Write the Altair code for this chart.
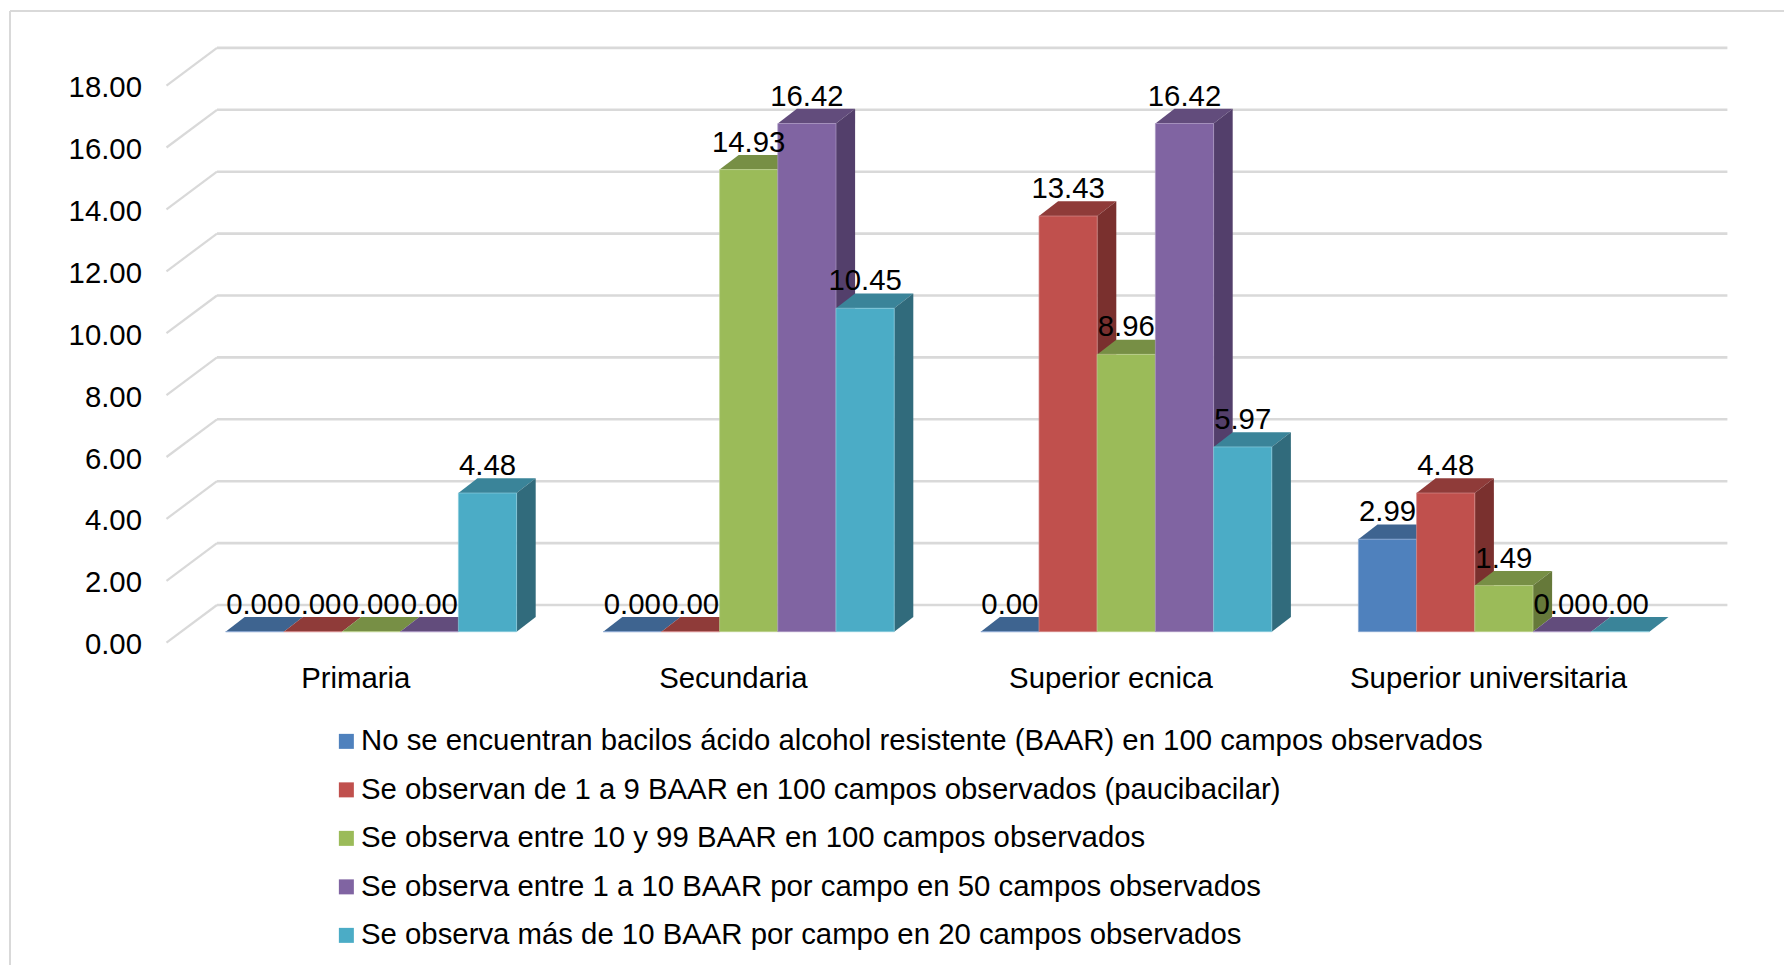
import altair as alt
import pandas as pd

# Survey categories and series (percent of samples per smear result)
categories = ["Primaria", "Secundaria", "Superior ecnica", "Superior universitaria"]
series_names = [
    "No se encuentran bacilos ácido alcohol resistente (BAAR) en 100 campos observados",
    "Se observan de 1 a 9 BAAR en 100 campos observados (paucibacilar)",
    "Se observa entre 10 y 99 BAAR en 100 campos observados",
    "Se observa entre 1 a 10 BAAR por campo en 50 campos observados",
    "Se observa más de 10 BAAR por campo en 20 campos observados",
]
no_baar = [0.00, 0.00, 0.00, 2.99]
paucibacilar = [0.00, 0.00, 13.43, 4.48]
entre_10_99 = [0.00, 14.93, 8.96, 1.49]
entre_1_10 = [0.00, 16.42, 16.42, 0.00]
mas_de_10 = [4.48, 10.45, 5.97, 0.00]
series_values = [no_baar, paucibacilar, entre_10_99, entre_1_10, mas_de_10]

front_colors = ["#4f81bd", "#c0504d", "#9bbb59", "#8064a2", "#4bacc6"]
top_colors = ["#3e6490", "#8f3b39", "#778f45", "#624c7c", "#3a8499"]
side_colors = ["#355678", "#7a302e", "#66793a", "#533f6b", "#316b7c"]
edge_colors = ["#8aa9d2", "#d48b89", "#bdd18f", "#a995c2", "#8accdc"]
y_ticks = [0, 2, 4, 6, 8, 10, 12, 14, 16, 18]

# Oblique projection, in axis units
UNIT_X = 377.6
UNIT_Y = 30.95
PLOT_W = 1561
PLOT_H = 619
WALL_DX = 50.5 / UNIT_X
WALL_DY = 37.7 / UNIT_Y
BAR_LIFT = 11.0 / UNIT_Y
BAR_DX = 19.1 / UNIT_X
BAR_DY = 14.7 / UNIT_Y
BAR_W = 58.2 / UNIT_X
FIRST_BAR = 59.1 / UNIT_X

x_scale = alt.Scale(domain=[0, PLOT_W / UNIT_X], nice=False, zero=False)
y_scale = alt.Scale(domain=[0, PLOT_H / UNIT_Y], nice=False, zero=False)

FONT = "Liberation Sans"
FONT_SIZE = 29.33
GRID = "#d9d9d9"

# Back wall and floor grid
wall = pd.DataFrame({
    "x": [0] * len(y_ticks),
    "x_back": [WALL_DX] * len(y_ticks),
    "x_end": [len(categories) + WALL_DX] * len(y_ticks),
    "y": y_ticks,
    "y_back": [t + WALL_DY for t in y_ticks],
})
wall_lines = alt.Chart(wall).mark_rule(color=GRID, strokeWidth=2.6).encode(
    x=alt.X("x_back:Q", scale=x_scale, axis=alt.Axis(
        values=[i + 0.5 for i in range(len(categories))],
        labelExpr="['" + "','".join(categories) + "'][floor(datum.value)]",
        title=None, domain=False, ticks=False, grid=False,
        labelFont=FONT, labelFontSize=FONT_SIZE, labelColor="#000000", labelPadding=22,
        labelFlush=False, labelOverlap=False, labelLimit=600,
    )),
    x2="x_end:Q",
    y=alt.Y("y_back:Q", scale=y_scale, axis=alt.Axis(
        values=y_ticks, format=".2f", title=None, domain=False, ticks=False, grid=False,
        labelFont=FONT, labelFontSize=FONT_SIZE, labelColor="#000000", labelPadding=25,
        labelOffset=2,
    )),
)
diag_rows = []
for t in y_ticks:
    diag_rows.append({"tick": t, "x": 0, "y": t})
    diag_rows.append({"tick": t, "x": WALL_DX, "y": t + WALL_DY})
wall_diagonals = alt.Chart(pd.DataFrame(diag_rows)).mark_line(color=GRID, strokeWidth=2.2).encode(
    x=alt.X("x:Q", scale=x_scale),
    y=alt.Y("y:Q", scale=y_scale),
    detail="tick:N",
)

# Outer chart border: top and left edges only
frame_layers = [
    alt.Chart(pd.DataFrame({"k": [0]})).mark_rule(color=GRID, strokeWidth=2).encode(
        x=alt.value(-156.5), x2=alt.value(1640), y=alt.value(-12.7)),
    alt.Chart(pd.DataFrame({"k": [0]})).mark_rule(color=GRID, strokeWidth=2).encode(
        x=alt.value(-156.5), y=alt.value(-12.7), y2=alt.value(960)),
]

layers = [wall_lines, wall_diagonals] + frame_layers

# Bars are painted series by series so later bars hide earlier side faces
label_rows = []
for s, (name, values) in enumerate(zip(series_names, series_values)):
    front_rows, side_rows, top_rows = [], [], []
    for g, v in enumerate(values):
        left = g + FIRST_BAR + s * BAR_W
        right = left + BAR_W
        base = BAR_LIFT
        top = v + BAR_LIFT
        front_rows.append({"series": name, "l": left, "r": right, "b": base, "t": top})
        side_rows.append({"g": g, "x": right, "y": top, "y2": base})
        side_rows.append({"g": g, "x": right + BAR_DX, "y": top + BAR_DY, "y2": base + BAR_DY})
        top_rows.append({"g": g, "y": top, "x": left, "x2": right})
        top_rows.append({"g": g, "y": top + BAR_DY, "x": left + BAR_DX, "x2": right + BAR_DX})
        label_rows.append({"x": (left + right) / 2, "y": top, "v": v})
    top_face = alt.Chart(pd.DataFrame(top_rows)).mark_area(
        color=top_colors[s], orient="horizontal"
    ).encode(
        y=alt.Y("y:Q", scale=y_scale),
        x=alt.X("x:Q", scale=x_scale, stack=None),
        x2="x2:Q",
        detail="g:N",
    )
    side_face = alt.Chart(pd.DataFrame(side_rows)).mark_area(color=side_colors[s]).encode(
        x=alt.X("x:Q", scale=x_scale),
        y=alt.Y("y:Q", scale=y_scale, stack=None),
        y2="y2:Q",
        detail="g:N",
    )
    front_face = alt.Chart(pd.DataFrame(front_rows)).mark_rect(
        stroke=edge_colors[s], strokeWidth=0.7
    ).encode(
        x=alt.X("l:Q", scale=x_scale),
        x2="r:Q",
        y=alt.Y("b:Q", scale=y_scale),
        y2="t:Q",
        fill=alt.Fill(
            "series:N",
            scale=alt.Scale(domain=series_names, range=front_colors),
            legend=alt.Legend(
                orient="none", legendX=165.2, legendY=703, title=None,
                symbolType="square", symbolSize=225, symbolStrokeWidth=0,
                labelFont=FONT, labelFontSize=FONT_SIZE, labelColor="#000000",
                labelLimit=1500, labelOffset=0, rowPadding=18.5,
            ),
        ),
    )
    layers += [top_face, side_face, front_face]

value_labels = alt.Chart(pd.DataFrame(label_rows)).mark_text(
    font=FONT, fontSize=FONT_SIZE, color="#000000", baseline="middle", dy=-27
).encode(
    x=alt.X("x:Q", scale=x_scale),
    y=alt.Y("y:Q", scale=y_scale),
    text=alt.Text("v:Q", format=".2f"),
)
layers.append(value_labels)

chart = alt.layer(*layers).properties(
    width=PLOT_W,
    height=PLOT_H,
    padding={"left": 166.5, "top": 23.7, "right": 56.5, "bottom": 322.3},
    autosize=alt.AutoSizeParams(type="none"),
    background="#ffffff",
).configure_view(stroke=None)

chart.save("out.html", embed_options={"renderer": "svg", "actions": False})
